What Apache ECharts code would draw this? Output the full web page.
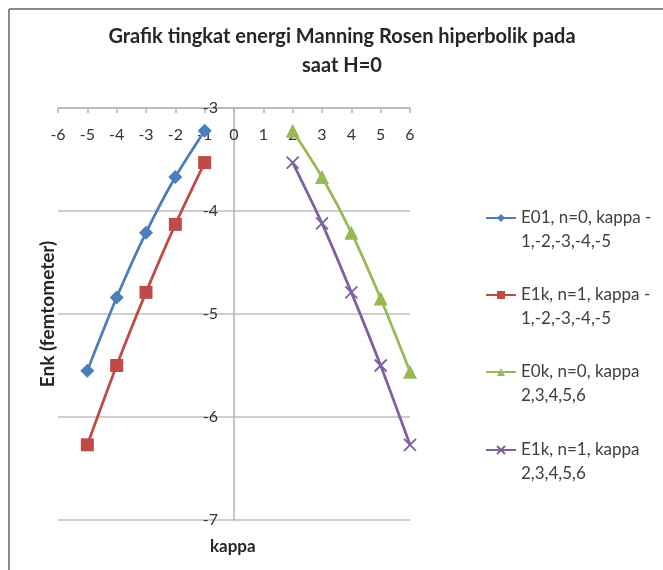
<!DOCTYPE html>
<html>
<head>
<meta charset="utf-8">
<script src="https://cdn.jsdelivr.net/npm/echarts@6/dist/echarts.min.js"></script>
<style>
  html, body { margin: 0; padding: 0; background: #ffffff; }
  #chart { width: 663px; height: 570px; }
</style>
</head>
<body>
<div id="chart"></div>
<script>
// kappa values for the negative and positive branches
const kappaNeg = [-1, -2, -3, -4, -5];
const kappaPos = [2, 3, 4, 5, 6];

// energy levels Enk (femtometer)
const e01Neg = [-3.22, -3.67, -4.21, -4.84, -5.55];
const e1kNeg = [-3.53, -4.13, -4.79, -5.50, -6.27];
const e0kPos = [-3.22, -3.67, -4.21, -4.85, -5.56];
const e1kPos = [-3.53, -4.12, -4.79, -5.50, -6.27];

// x-axis range (the vertical axis crosses at kappa = 0)
const xMin = -6, xMax = 6;

const seriesNames = [
  'E01, n=0, kappa -1,-2,-3,-4,-5',
  'E1k, n=1, kappa -1,-2,-3,-4,-5',
  'E0k, n=0, kappa 2,3,4,5,6',
  'E1k, n=1, kappa 2,3,4,5,6'
];
// legend text, split over two lines
const legendLines = {
  'E01, n=0, kappa -1,-2,-3,-4,-5': ['E01, n=0, kappa -', '1,-2,-3,-4,-5'],
  'E1k, n=1, kappa -1,-2,-3,-4,-5': ['E1k, n=1, kappa -', '1,-2,-3,-4,-5'],
  'E0k, n=0, kappa 2,3,4,5,6': ['E0k, n=0, kappa', '2,3,4,5,6'],
  'E1k, n=1, kappa 2,3,4,5,6': ['E1k, n=1, kappa', '2,3,4,5,6']
};

const colors = ['#4A7EBB', '#BE4B48', '#98B954', '#7D60A0'];
const crossPath = 'path://M0,0L10,10M10,0L0,10';
const symbols = ['diamond', 'rect', 'triangle', crossPath];
const symbolSizes = [14, 13, 14, 12];
const legendTops = [177, 254, 331, 409];

const pair = (xs, ys) => xs.map((x, i) => [x, ys[i]]);
const dataSets = [pair(kappaNeg, e01Neg), pair(kappaNeg, e1kNeg), pair(kappaPos, e0kPos), pair(kappaPos, e1kPos)];

const fontFam = 'Lato, "Open Sans", sans-serif';

const gridLeft = 58, gridRight = 253;
const plotWidth = 663 - gridLeft - gridRight;
// shift the vertical axis from the grid's left edge to kappa = 0
const yAxisShift = plotWidth * (0 - xMin) / (xMax - xMin);

const series = seriesNames.map((name, i) => ({
  name: name,
  type: 'line',
  data: dataSets[i],
  smooth: 0.25,
  symbol: symbols[i],
  symbolSize: symbolSizes[i],
  lineStyle: { color: colors[i], width: 2.75 },
  itemStyle: i === 3
    ? { color: colors[i], borderColor: colors[i], borderWidth: 1.8 }
    : { color: colors[i] },
  z: 3
}));

const legends = seriesNames.map((name, i) => ({
  data: [name],
  left: 480,
  top: legendTops[i],
  orient: 'vertical',
  itemWidth: 30,
  itemHeight: 10,
  selectedMode: false,
  textStyle: {
    fontFamily: fontFam,
    fontSize: 17,
    color: '#404040',
    lineHeight: 24
  },
  // leading empty line keeps the icon level with the first text line
  formatter: n => '\n' + legendLines[n][0] + '\n' + legendLines[n][1]
}));

const chart = echarts.init(document.getElementById('chart'), null, { renderer: 'canvas' });
chart.setOption({
  backgroundColor: '#ffffff',
  animation: false,
  title: {
    text: 'Grafik tingkat energi Manning Rosen hiperbolik pada\nsaat H=0',
    left: 337,
    textAlign: 'center',
    top: 17,
    textStyle: {
      fontFamily: fontFam,
      fontWeight: 'bold',
      fontSize: 20,
      lineHeight: 29,
      color: '#262626'
    }
  },
  legend: legends,
  grid: { left: gridLeft, right: gridRight, top: 108, bottom: 50, containLabel: false, outerBoundsMode: 'none' },
  xAxis: {
    type: 'value',
    position: 'top',
    min: xMin,
    max: xMax,
    interval: 1,
    axisLine: { onZero: false, lineStyle: { color: '#b5b5b5', width: 1.5 } },
    axisTick: { show: true, inside: true, length: 5, lineStyle: { color: '#b5b5b5', width: 1.5 } },
    axisLabel: { inside: true, margin: 19, fontFamily: fontFam, fontSize: 16, color: '#333333' },
    splitLine: { show: false }
  },
  yAxis: {
    type: 'value',
    min: -7,
    max: -3,
    interval: 1,
    offset: -yAxisShift,
    name: 'Enk (femtometer)',
    nameLocation: 'middle',
    nameGap: 177,
    nameRotate: 90,
    nameTextStyle: { fontFamily: fontFam, fontWeight: 'bold', fontSize: 19, color: '#262626' },
    axisLine: { onZero: false, lineStyle: { color: '#b5b5b5', width: 1.5 } },
    axisTick: { show: false },
    axisLabel: { margin: 16, fontFamily: fontFam, fontSize: 16, color: '#333333' },
    splitLine: { show: true, lineStyle: { color: '#bfbfbf', width: 1.5 } }
  },
  graphic: [
    {
      type: 'text',
      left: 233 - 23,
      top: 538,
      style: { text: 'kappa', font: 'bold 17px ' + fontFam, fill: '#262626' }
    },
    {
      type: 'line',
      shape: { x1: 9, y1: 9, x2: 663, y2: 9 },
      style: { stroke: '#8a8a8a', lineWidth: 2 }
    },
    {
      type: 'line',
      shape: { x1: 9, y1: 9, x2: 9, y2: 570 },
      style: { stroke: '#8a8a8a', lineWidth: 2 }
    }
  ],
  series: series
});
</script>
</body>
</html>
